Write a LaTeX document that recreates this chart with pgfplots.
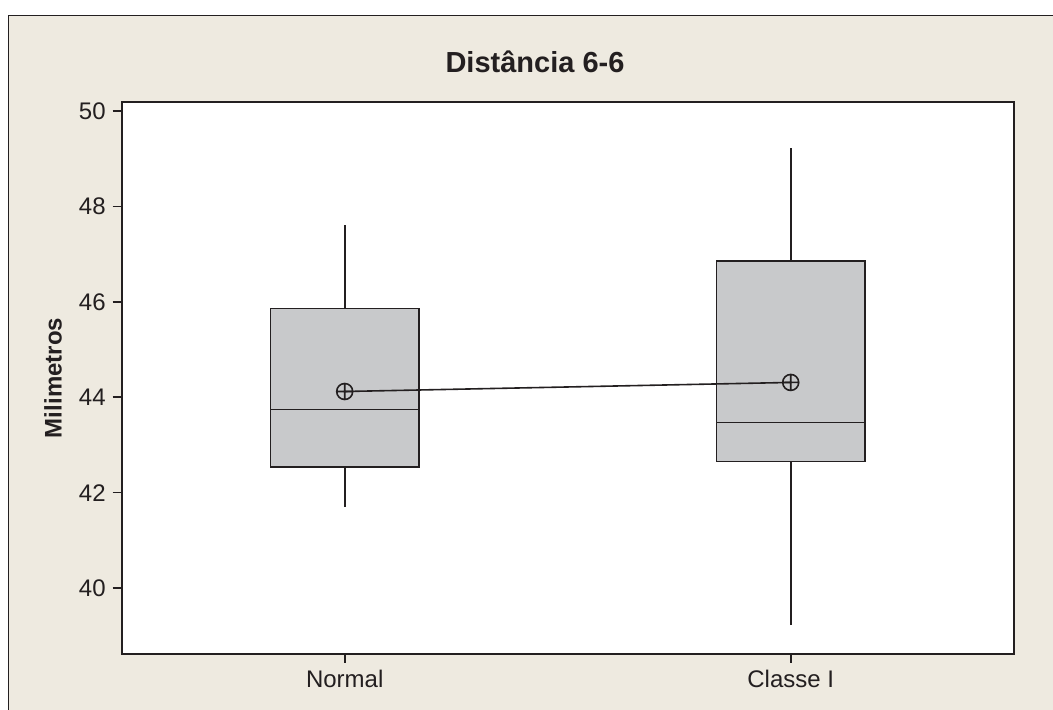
\documentclass[border=0pt]{standalone}
\usepackage{fontspec}
\setmainfont{Liberation Sans}
\usepackage{pgfplots}
\pgfplotsset{compat=1.18}
\usepgfplotslibrary{statistics}
\definecolor{bg}{RGB}{238,234,224}
\definecolor{boxfill}{RGB}{200,201,203}
\definecolor{ink}{RGB}{35,31,32}
\begin{document}
\begin{tikzpicture}[x=1pt,y=1pt]
\useasboundingbox (0,0) rectangle (526.5,355);
\fill[white] (0,0) rectangle (526.5,355);
\fill[bg] (4.15,0) rectangle (526.5,347.35);
\draw[ink, line width=0.7pt] (4.15,0) -- (4.15,347.35) -- (526.5,347.35);
\begin{axis}[
  at={(60.85pt,28pt)}, anchor=south west,
  scale only axis, width=446pt, height=275.85pt,
  xmin=0.5, xmax=2.5, ymin=38.62, ymax=50.18,
  xtick={1,2}, xticklabels={Normal, Classe I},
  ytick={40,42,...,50},
  tick align=outside, major tick length=4.5pt,
  xtick pos=left, ytick pos=left,
  axis line style={ink, line width=1pt},
  tick style={ink, line width=0.8pt},
  axis background/.style={fill=white},
  ticklabel style={font=\fontsize{12}{14}\selectfont, text=ink},
  /pgf/number format/assume math mode=true,
  boxplot/draw direction=y,
  clip=false,
]
\addplot[boxplot prepared={draw position=1, median=43.74, upper quartile=45.86,
  lower quartile=42.54, upper whisker=47.6, lower whisker=41.7,
  box extend=0.332, whisker extend=0}, draw=ink, fill=boxfill, line width=0.8pt, solid]
  coordinates {};
\addplot[boxplot prepared={draw position=2, median=43.47, upper quartile=46.85,
  lower quartile=42.65, upper whisker=49.22, lower whisker=39.22,
  box extend=0.332, whisker extend=0}, draw=ink, fill=boxfill, line width=0.8pt, solid]
  coordinates {};
\addplot[ink, line width=0.8pt, mark=oplus, mark size=4pt,
  mark options={fill=boxfill, line width=0.8pt}] coordinates {(1,44.12) (2,44.31)};
\end{axis}
\node[font=\bfseries\fontsize{14.5}{16}\selectfont, text=ink] at (267.5,324) {Distância 6-6};
\node[rotate=90, font=\bfseries\fontsize{12}{14}\selectfont, text=ink] at (26.5,166) {Milimetros};
\end{tikzpicture}
\end{document}
